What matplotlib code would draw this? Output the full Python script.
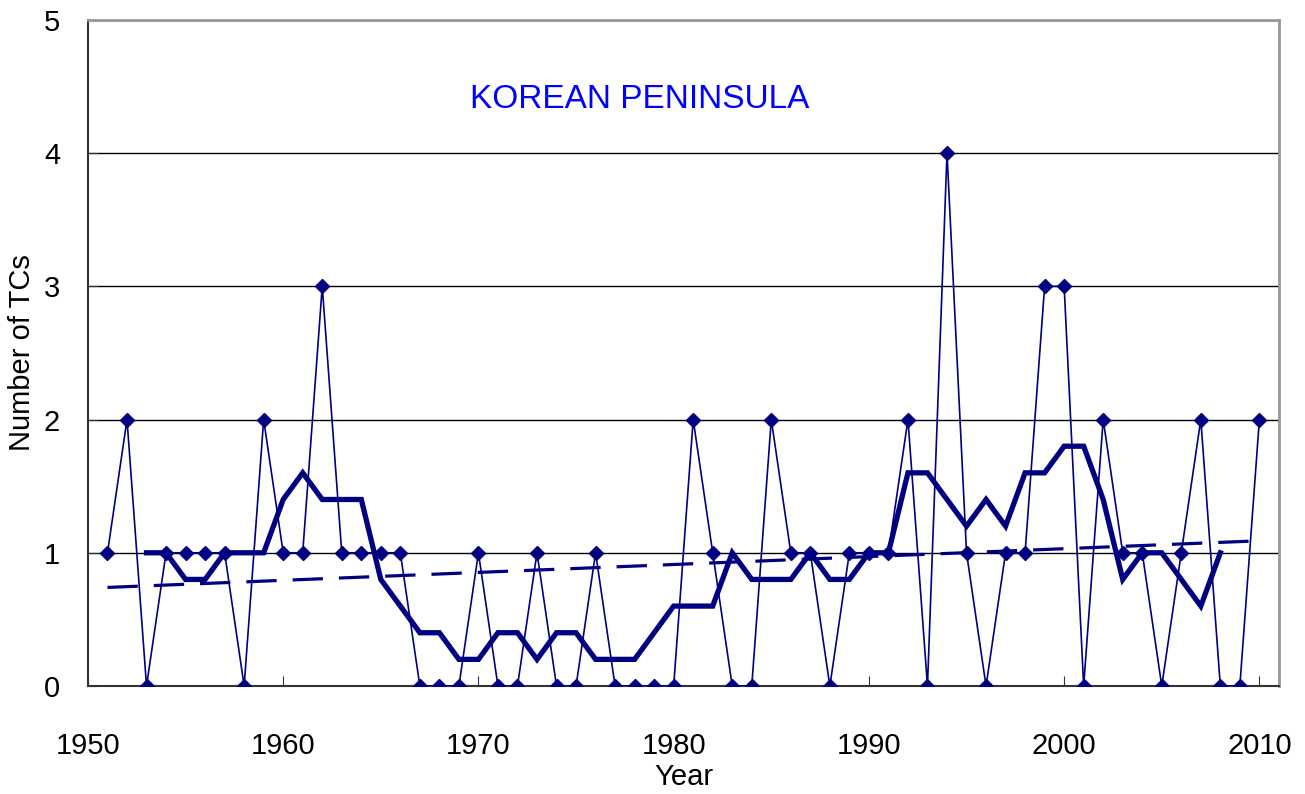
import numpy as np
import matplotlib
matplotlib.use("Agg")
import matplotlib.pyplot as plt

plt.rcParams['font.family'] = ['Liberation Sans', 'DejaVu Sans']

# annual number of TCs affecting the Korean Peninsula
years = list(range(1951, 2011))
counts = [1, 2, 0, 1, 1, 1, 1, 0, 2, 1,
          1, 3, 1, 1, 1, 1, 0, 0, 0, 1,
          0, 0, 1, 0, 0, 1, 0, 0, 0, 0,
          2, 1, 0, 0, 2, 1, 1, 0, 1, 1,
          1, 2, 0, 4, 1, 0, 1, 1, 3, 3,
          0, 2, 1, 1, 0, 1, 2, 0, 0, 2]

# 5-year running mean, 1953-2008
ma_years = list(range(1953, 2009))
ma_values = [1.0, 1.0, 0.8, 0.8, 1.0, 1.0, 1.0, 1.4, 1.6, 1.4,
             1.4, 1.4, 0.8, 0.6, 0.4, 0.4, 0.2, 0.2, 0.4, 0.4,
             0.2, 0.4, 0.4, 0.2, 0.2, 0.2, 0.4, 0.6, 0.6, 0.6,
             1.0, 0.8, 0.8, 0.8, 1.0, 0.8, 0.8, 1.0, 1.0, 1.6,
             1.6, 1.4, 1.2, 1.4, 1.2, 1.6, 1.6, 1.8, 1.8, 1.4,
             0.8, 1.0, 1.0, 0.8, 0.6, 1.0]

# linear trend end points
trend_years = [1951, 2010]
trend_values = [0.74, 1.09]

navy = '#000080'

fig = plt.figure(figsize=(13.05, 7.94), dpi=100)
ax = fig.add_axes([0.0674, 0.136, 0.9126, 0.839])

ax.plot(trend_years, trend_values, color=navy, lw=2.3, ls=(0, (9.5, 5)), zorder=2)
ax.plot(years, counts, color=navy, lw=1.2, marker='D', ms=7.5, zorder=3)
ax.plot(ma_years, ma_values, color=navy, lw=3.8, solid_joinstyle='miter', zorder=4)

ax.set_xlim(1950, 2011)
ax.set_ylim(0, 5)
ax.set_xticks(range(1950, 2011, 10))
ax.set_yticks(range(0, 6))
ax.yaxis.grid(True, color='black', lw=1)
ax.set_axisbelow(True)

ax.tick_params(direction='in', length=7, labelsize=21, color='#333333')
ax.tick_params(axis='x', pad=33)
ax.tick_params(axis='y', pad=20)

for side in ['top', 'right']:
    ax.spines[side].set_color('#999999')
    ax.spines[side].set_linewidth(2)
for side in ['left', 'bottom']:
    ax.spines[side].set_color('#333333')
    ax.spines[side].set_linewidth(1.5)

ax.set_xlabel('Year', fontsize=21, labelpad=2)
ax.set_ylabel('Number of TCs', fontsize=21, labelpad=6)

ax.text(0.463, 0.881, 'KOREAN PENINSULA', transform=ax.transAxes,
        ha='center', va='center', fontsize=24, color='#0000FF')

fig.savefig('out.png', dpi=100)
